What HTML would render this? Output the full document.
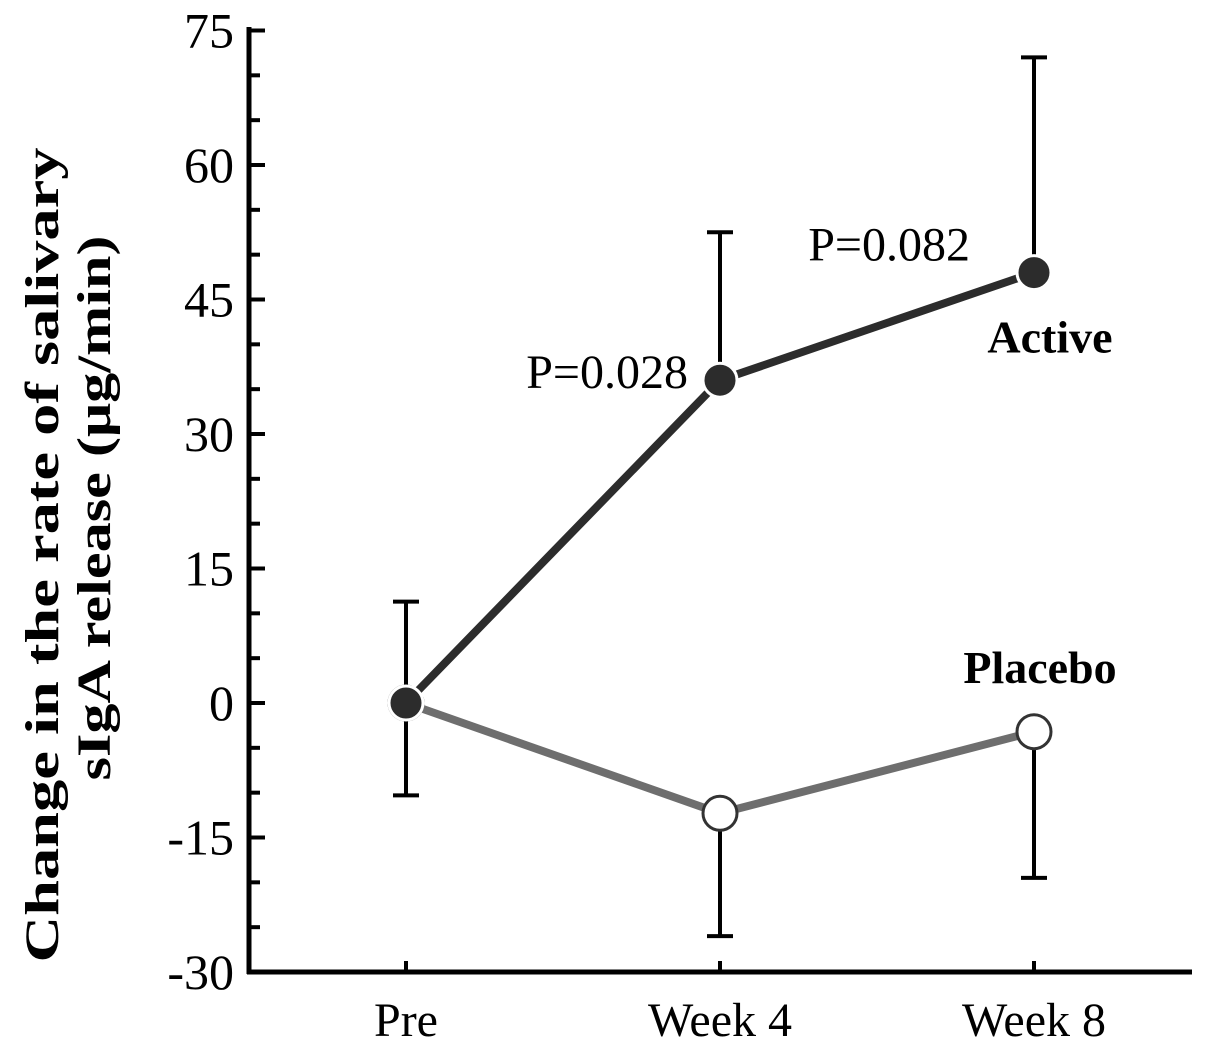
<!DOCTYPE html>
<html><head><meta charset="utf-8"><style>
body{margin:0;background:#fff}
svg{display:block;font-family:"Liberation Serif",serif}
</style></head><body>
<svg id="chart" width="1205" height="1048" viewBox="0 0 1205 1048" xmlns="http://www.w3.org/2000/svg"></svg>
<script>
const categories=["Pre","Week 4","Week 8"];
const activeValues=[0,36,48];
const activeUpper=[11.3,52.5,72];
const activeLower=[-10.3,null,null];
const placeboValues=[0,-12.3,-3.2];
const placeboLower=[null,-26,-19.5];
const yTicks=[75,60,45,30,15,0,-15,-30];
const pLabels=["","P=0.028","P=0.082"];

const svg=document.getElementById('chart');
const NS="http://www.w3.org/2000/svg";
const y0=972,yScale=269/30;
const Y=v=>y0-(v+30)*yScale;
const X=i=>406+i*314;
function mk(t,a,parent){const e=document.createElementNS(NS,t);for(const k in a)e.setAttribute(k,a[k]);(parent||svg).appendChild(e);return e;}

const axes=mk('g',{});


mk('line',{x1:249,y1:27,x2:249,y2:y0+2,stroke:'#000','stroke-width':5},axes);
mk('line',{x1:247,y1:y0,x2:1192,y2:y0,stroke:'#000','stroke-width':5},axes);
for(let v=-30;v<=75;v+=5){
  const major=v%15===0;
  mk('line',{x1:249,y1:Y(v),x2:major?265:260,y2:Y(v),stroke:'#000','stroke-width':4},axes);
}
yTicks.forEach(v=>{
  const t=mk('text',{x:234,y:Y(v)+17,'text-anchor':'end','font-size':50},axes);
  
  
  t.textContent=v;
});
categories.forEach((c,i)=>{
  mk('line',{x1:X(i),y1:y0,x2:X(i),y2:y0-11,stroke:'#000','stroke-width':4},axes);
  const t=mk('text',{x:X(i),y:1036,'text-anchor':'middle','font-size':48},axes);
  
  
  t.textContent=c;
});
const yt=mk('text',{transform:'translate(58,555) rotate(-90)','text-anchor':'middle','font-size':48,'font-weight':'bold',textLength:815,lengthAdjust:'spacingAndGlyphs'});


yt.textContent="Change in the rate of salivary";
const yt2=mk('text',{transform:'translate(110,508) rotate(-90)','text-anchor':'middle','font-size':48,'font-weight':'bold',textLength:545,lengthAdjust:'spacingAndGlyphs'});


yt2.textContent="sIgA release (μg/min)";

function errbar2(i,base,v){
  if(v===null)return;
  const e=mk('g',{});
  
  
  mk('line',{x1:X(i),y1:Y(v),x2:X(i),y2:Y(base),stroke:'#000','stroke-width':4},e);
  mk('line',{x1:X(i)-13,y1:Y(v),x2:X(i)+13,y2:Y(v),stroke:'#000','stroke-width':4},e);
}
activeUpper.forEach((v,i)=>errbar2(i,activeValues[i],v));
activeLower.forEach((v,i)=>errbar2(i,activeValues[i],v));
placeboLower.forEach((v,i)=>errbar2(i,placeboValues[i],v));

function series(vals,color,fill,name){
  const g=mk('g',{});
  
  
  for(let i=0;i<vals.length-1;i++){
    mk('line',{x1:X(i),y1:Y(vals[i]),x2:X(i+1),y2:Y(vals[i+1]),stroke:'#fff','stroke-width':16},g);
    mk('line',{x1:X(i),y1:Y(vals[i]),x2:X(i+1),y2:Y(vals[i+1]),stroke:color,'stroke-width':8},g);
  }
  vals.forEach((v,i)=>{
    const c=mk('circle',{cx:X(i),cy:Y(v),r:17,fill:fill,stroke:fill==='#fff'?'#333':'#fff','stroke-width':3},g);
    
    
  });
}
series(placeboValues,'#6e6e6e','#fff','placebo');
series(activeValues,'#2c2c2c','#2c2c2c','active');

pLabels.forEach((p,i)=>{
  if(!p)return;
  const t=mk('text',{x:X(i)-32-(i===2?32:0),y:Y(activeValues[i])+(i===1?8:-12),'text-anchor':'end','font-size':48});
  
  
  t.textContent=p;
});
const la=mk('text',{x:1050,y:Y(activeValues[2])+80,'text-anchor':'middle','font-size':46,'font-weight':'bold'});


la.textContent="Active";
const lp=mk('text',{x:1040,y:683,'text-anchor':'middle','font-size':46,'font-weight':'bold'});


lp.textContent="Placebo";
</script>
</body></html>
